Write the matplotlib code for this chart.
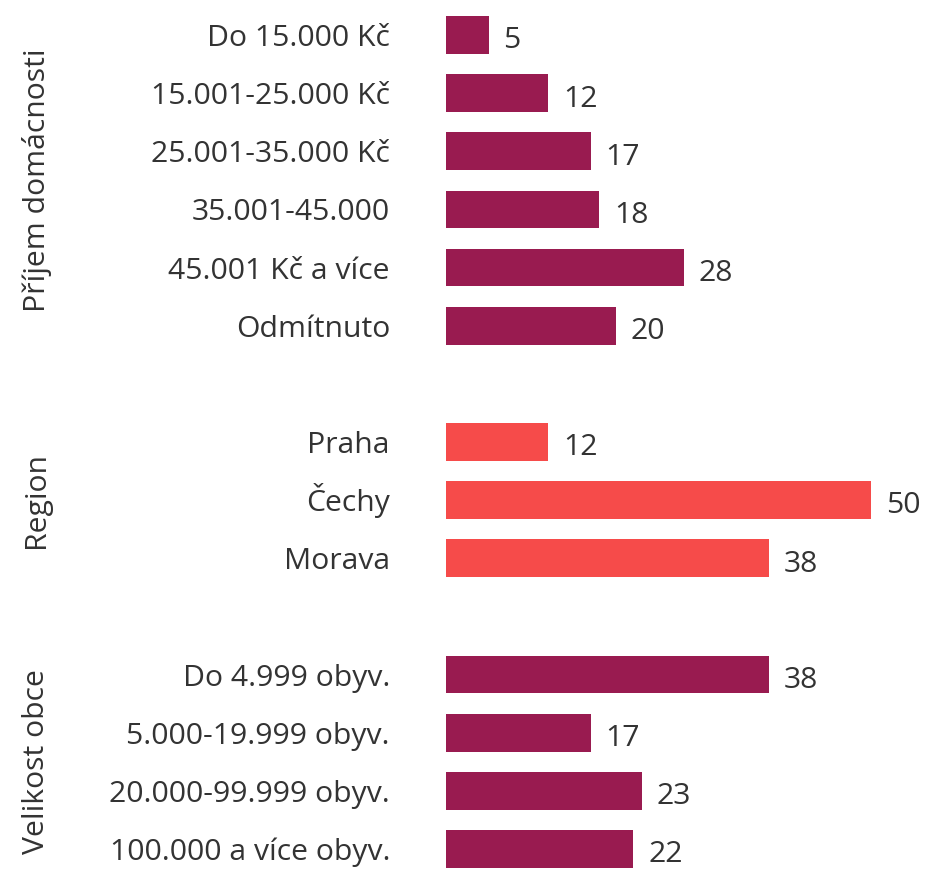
import matplotlib
matplotlib.use("Agg")
import matplotlib.pyplot as plt

plt.rcParams['font.family'] = ['Open Sans', 'DejaVu Sans']

income_labels = ["Do 15.000 Kč", "15.001-25.000 Kč", "25.001-35.000 Kč",
                 "35.001-45.000", "45.001 Kč a více", "Odmítnuto"]
income_values = [5, 12, 17, 18, 28, 20]
region_labels = ["Praha", "Čechy", "Morava"]
region_values = [12, 50, 38]
size_labels = ["Do 4.999 obyv.", "5.000-19.999 obyv.", "20.000-99.999 obyv.",
               "100.000 a více obyv."]
size_values = [38, 17, 23, 22]
group_titles = ["Příjem domácnosti", "Region", "Velikost obce"]

MAGENTA = "#991B50"
CORAL = "#F64B4A"
TEXT = "#333333"

groups = [(income_labels, income_values, MAGENTA),
          (region_labels, region_values, CORAL),
          (size_labels, size_values, MAGENTA)]

W, H = 925, 869
fig = plt.figure(figsize=(W / 100, H / 100), dpi=100)
ax = fig.add_axes([446 / W, 0, 1 - 446 / W, 1])
ax.set_xlim(0, (W - 446) / 8.5)
ax.set_ylim((H - 35) / 58.14, -35 / 58.14)
ax.axis('off')

fs = 21.7
pos = 0
for gi, (labels, values, color) in enumerate(groups):
    start = pos
    for lab, v in zip(labels, values):
        ax.barh(pos, v, height=0.65, color=color)
        ax.text(v + 15 / 8.5, pos + 0.23, str(v), ha='left', va='baseline',
                fontsize=fs, color=TEXT)
        ax.text(-56 / 8.5, pos + 0.19, lab, ha='right', va='baseline',
                fontsize=fs, color=TEXT, clip_on=False)
        pos += 1
    center = (start + pos - 1) / 2
    ax.text(-(446 - 37) / 8.5, center, group_titles[gi], rotation=90,
            ha='center', va='center', fontsize=fs, color=TEXT, clip_on=False)
    pos += 1

fig.savefig("out.png", dpi=100)
